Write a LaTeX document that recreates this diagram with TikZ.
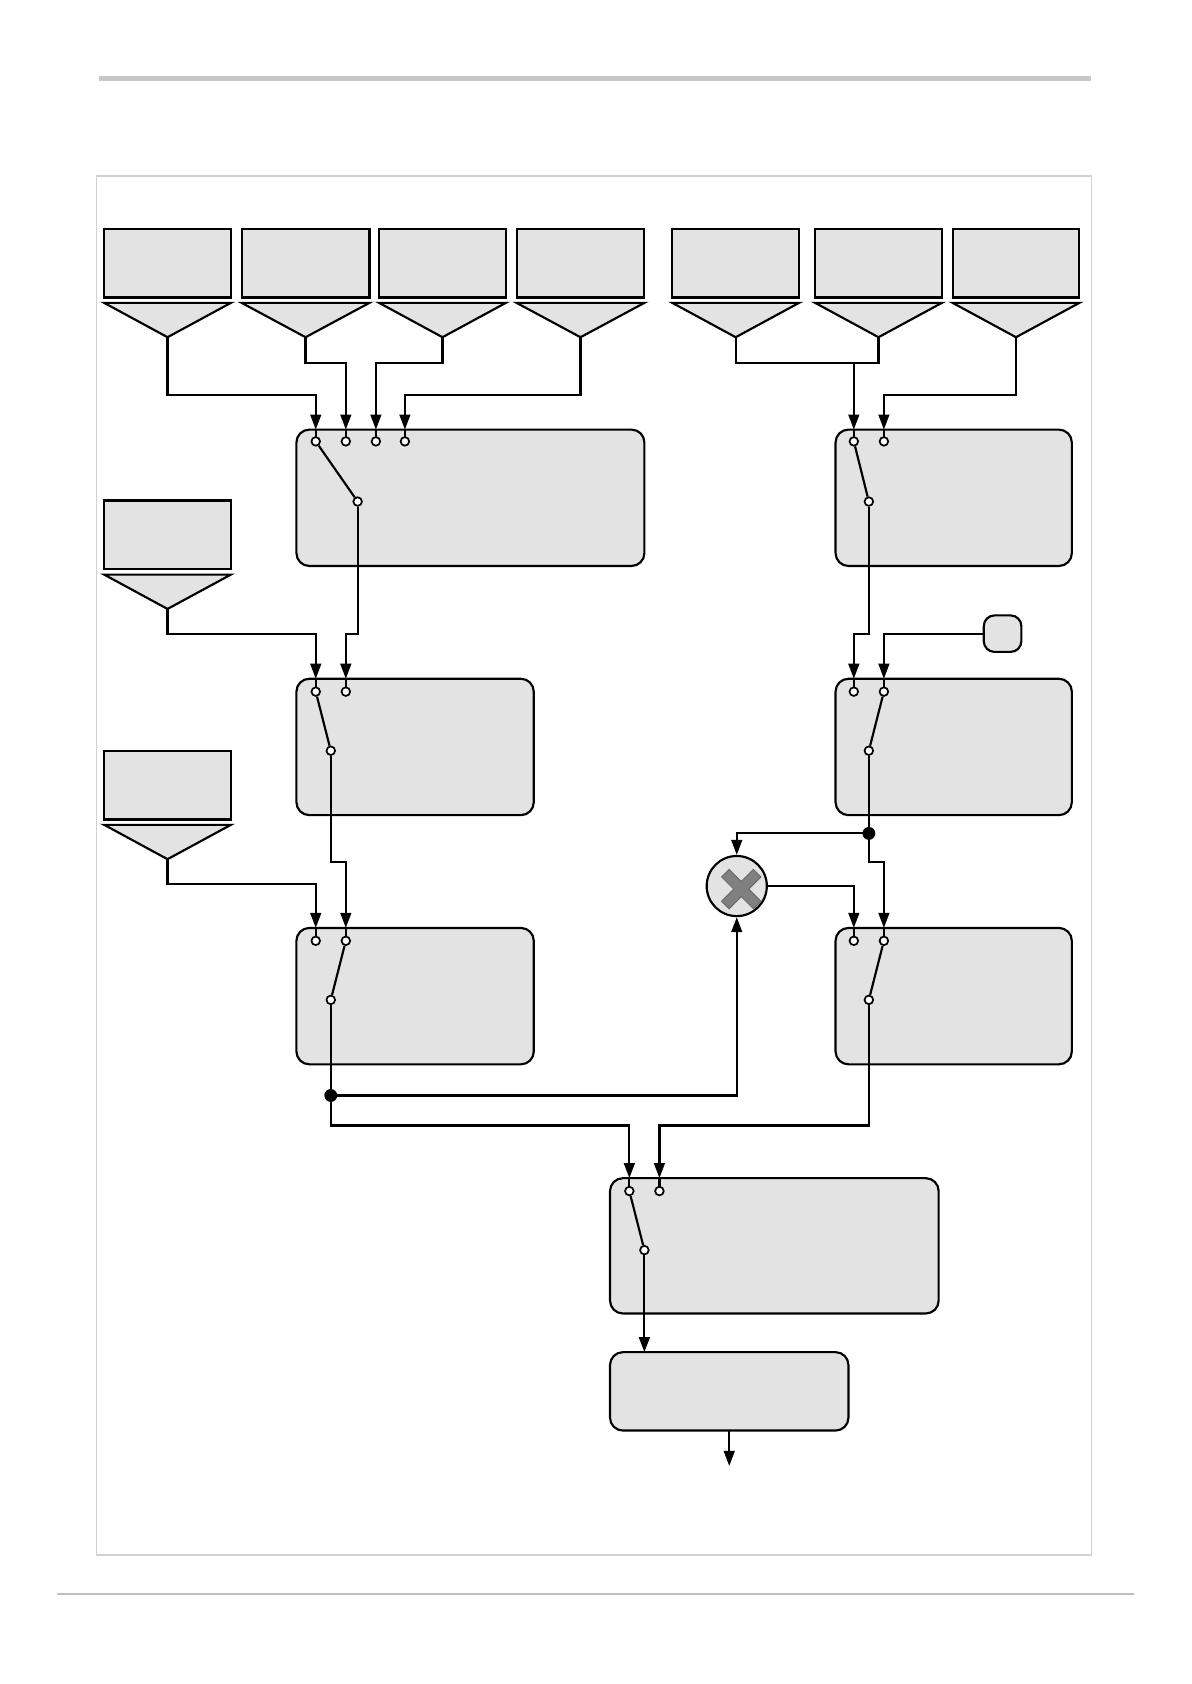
\documentclass[tikz,border=0pt]{standalone}
\usepackage{tikz}
\usetikzlibrary{positioning,shapes,arrows.meta}

\tikzset{
  srcbox/.style={draw, line width=1pt, fill=black!11, minimum width=59pt, minimum height=32pt, inner sep=0pt},
  blockbox/.style={draw, line width=1pt, fill=black!11, rounded corners=6pt, inner sep=0pt},
  pin/.style={circle, draw, line width=0.8pt, fill=white, minimum size=4pt, inner sep=0pt},
  wire/.style={line width=1pt},
  feed/.style={line width=1pt, -{Triangle[length=7pt,width=5pt]}},
  funnel/.style={draw, line width=1pt, fill=black!11}
}

\begin{document}
\begin{tikzpicture}[x=0.5pt,y=-0.5pt]
\useasboundingbox (0,0) rectangle (1109,1568);
% page rules and frame
\draw [black!22, line width=2pt] (92,73) -- (1016,73);
\draw [black!25, line width=0.8pt] (53,1484) -- (1056,1484);
\draw [black!18, line width=0.6pt] (90,164) rectangle (1016,1448);

% source boxes with funnels
\foreach \name/\xa/\xb/\ya in {s1/97/215/213, s2/225/344/213, s3/353/471/213, s4/481/600/213,
    s5/626/744/213, s6/759/877/213, s7/887/1005/213, s8/97/215/466, s9/97/215/699} {
  \draw [funnel] (\xa,\ya) rectangle (\xb,\ya+64);
  \draw [funnel] (\xa,\ya+69) -- (\xb,\ya+69) -- ({(\xa+\xb)/2},\ya+101) -- cycle;
  \coordinate (\name) at ({(\xa+\xb)/2},\ya+101);
}

% blocks
\draw [blockbox] (276,400) rectangle (600,527);
\draw [blockbox] (276,632) rectangle (497,759);
\draw [blockbox] (276,864) rectangle (497,991);
\draw [blockbox] (778,400) rectangle (998,527);
\draw [blockbox] (778,632) rectangle (998,759);
\draw [blockbox] (778,864) rectangle (998,991);
\draw [blockbox] (568,1097) rectangle (874,1223);
\draw [blockbox] (568,1259) rectangle (790,1332);
\draw [blockbox, rounded corners=5pt] (916,573) rectangle (951,607);
\coordinate (const) at (916,590);

% switch inputs
\foreach \name/\x/\y in {a1/294/411, a2/322/411, a3/350/411, a4/377/411,
    b1/294/644, b2/322/644, c1/294/876, c2/322/876,
    r1/795/411, r2/823/411, q1/795/644, q2/823/644, p1/795/876, p2/823/876,
    e1/586/1109, e2/614/1109} {
  \draw [wire] (\x,\y-11) -- (\x,\y);
  \node [pin] (\name) at (\x,\y) {};
}
% switch pivots
\foreach \name/\x/\y in {av/333/467, bv/308/699, cv/308/931, rv/809/467, qv/809/699, pv/809/931, ev/600/1164}
  \node [pin] (\name) at (\x,\y) {};

\draw [wire] (a1) -- (av);
\draw [wire] (b1) -- (bv);
\draw [wire] (c2) -- (cv);
\draw [wire] (r1) -- (rv);
\draw [wire] (q2) -- (qv);
\draw [wire] (p2) -- (pv);
\draw [wire] (e1) -- (ev);

% multiplier
\node [circle, draw, line width=1pt, fill=black!11, minimum size=28pt, inner sep=0pt] (mul) at (686,825) {};
\fill [black!50, draw=black!60, line width=0.4pt] (686,825) ++(45:3pt) -- ++(45:8pt) -- ++(-45:5pt) -- ++(-135:8pt)
  -- ++(-45:8pt) -- ++(-135:5pt) -- ++(135:8pt) -- ++(-135:8pt) -- ++(135:5pt) -- ++(45:8pt)
  -- ++(135:8pt) -- ++(45:5pt) -- cycle;

% connectors
\draw [feed] (s1) |- (294,368) -- (294,400);
\draw [feed] (s2) |- (322,338) -- (322,400);
\draw [feed] (s3) |- (350,338) -- (350,400);
\draw [feed] (s4) |- (377,368) -- (377,400);
\draw [wire] (s5) |- (818,338) -- (s6);
\draw [feed] (795,338) -- (795,400);
\draw [feed] (s7) |- (823,368) -- (823,400);

\draw [feed] (av) -- (333,590) -| (322,632);
\draw [feed] (s8) |- (294,590) -- (294,632);
\draw [feed] (bv) -- (308,803) -| (322,864);
\draw [feed] (s9) |- (294,823) -- (294,864);

\draw [feed] (rv) -- (809,590) -| (795,632);
\draw [feed] (const) -| (823,632);
\draw [feed] (qv) -- (809,803) -| (823,864);
\fill (809,776) circle (3pt);
\draw [feed] (809,776) -| (mul.north);
\draw [feed] (mul.east) -| (795,864);

\draw [feed] (cv) -- (308,1048) -| (586,1097);
\fill (308,1020) circle (3pt);
\draw [feed] (308,1020) -| (mul.south);
\draw [feed] (pv) -- (809,1048) -| (614,1097);
\draw [feed] (ev) -- (600,1259);
\draw [feed] (679,1332) -- (679,1365);
\end{tikzpicture}
\end{document}
